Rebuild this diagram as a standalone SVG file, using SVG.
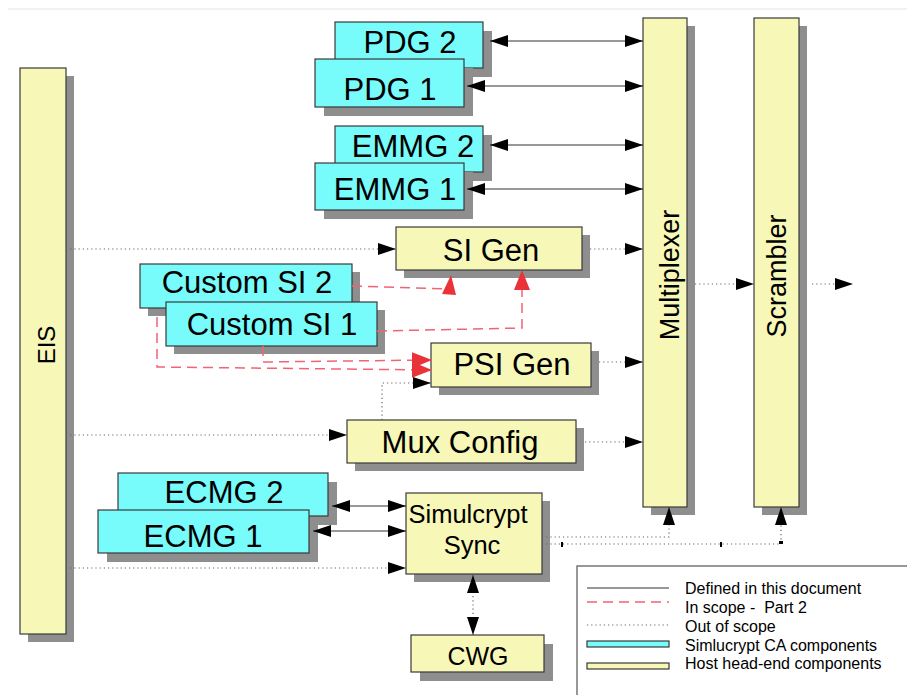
<svg xmlns="http://www.w3.org/2000/svg" width="907" height="695" viewBox="0 0 907 695">
  <style>
    .shadow { fill: #8e8e8e; }
    .host { fill: #f7f7b7; stroke: #3a3a3a; stroke-width: 1.2; }
    .ca { fill: #78fbfb; stroke: #3a3a3a; stroke-width: 1.2; }
    .lbl { font-family: "Liberation Sans", Arial, sans-serif; fill: #000; text-anchor: middle; }
    .big { font-size: 31px; }
    .mid { font-size: 25px; }
    .col { font-size: 27px; }
    .leg { font-family: "Liberation Sans", Arial, sans-serif; font-size: 16px; fill: #000; white-space: pre; }
    .solid { fill: none; stroke: #333; stroke-width: 1.1; }
    .dot { fill: none; stroke: #666; stroke-width: 1.2; stroke-dasharray: 1.2 3; }
    .dash { fill: none; stroke: #f06473; stroke-width: 1.5; stroke-dasharray: 10 6; }
  </style>
  <defs>
    <marker id="ah" viewBox="0 0 18 12" refX="18" refY="6" markerWidth="18" markerHeight="12" markerUnits="userSpaceOnUse" orient="auto-start-reverse">
      <path d="M0,0 L18,6 L0,12 Z" fill="#000"/>
    </marker>
    <marker id="ahr" viewBox="0 0 20 16" refX="20" refY="8" markerWidth="20" markerHeight="16" markerUnits="userSpaceOnUse" orient="auto">
      <path d="M0,0 L20,8 L0,16 Z" fill="#ea3338"/>
    </marker>
  </defs>

  <rect width="907" height="695" fill="#fff"/>
  <line x1="8" y1="9" x2="907" y2="9" stroke="#eeeeee" stroke-width="1.5"/>

  <!-- host head-end columns -->
  <g id="eis">
    <rect class="shadow" x="28" y="76" width="46" height="566"/>
    <rect class="host" x="20" y="68" width="46" height="566"/>
    <text class="lbl" font-size="24" transform="translate(55,345) rotate(-90)">EIS</text>
  </g>
  <g id="multiplexer">
    <rect class="shadow" x="651" y="26" width="44" height="489"/>
    <rect class="host" x="643" y="18" width="44" height="489"/>
    <text class="lbl col" transform="translate(679,275) rotate(-90)">Multiplexer</text>
  </g>
  <g id="scrambler">
    <rect class="shadow" x="762" y="26" width="45" height="489"/>
    <rect class="host" x="754" y="18" width="45" height="489"/>
    <text class="lbl col" transform="translate(786,276) rotate(-90)">Scrambler</text>
  </g>

  <!-- CA generators -->
  <g id="pdg2">
    <rect class="shadow" x="344" y="31" width="148" height="46"/>
    <rect class="ca" x="335" y="22" width="148" height="46"/>
    <text class="lbl big" x="410" y="53">PDG 2</text>
  </g>
  <g id="pdg1">
    <rect class="shadow" x="324" y="68" width="149" height="48"/>
    <rect class="ca" x="315" y="59" width="149" height="48"/>
    <text class="lbl big" x="390" y="100">PDG 1</text>
  </g>
  <g id="emmg2">
    <rect class="shadow" x="344" y="135" width="148" height="46"/>
    <rect class="ca" x="335" y="126" width="148" height="46"/>
    <text class="lbl big" x="413" y="157">EMMG 2</text>
  </g>
  <g id="emmg1">
    <rect class="shadow" x="324" y="172" width="149" height="47"/>
    <rect class="ca" x="315" y="163" width="149" height="47"/>
    <text class="lbl big" x="395" y="200">EMMG 1</text>
  </g>

  <g id="si-gen">
    <rect class="shadow" x="404" y="235" width="186" height="43"/>
    <rect class="host" x="396" y="227" width="186" height="43"/>
    <text class="lbl big" x="491" y="261">SI Gen</text>
  </g>
  <g id="custom-si2">
    <rect class="shadow" x="148" y="272" width="212" height="44"/>
    <rect class="ca" x="140" y="264" width="212" height="44"/>
    <text class="lbl big" x="247" y="293">Custom SI 2</text>
  </g>
  <g id="custom-si1">
    <rect class="shadow" x="174" y="310" width="211" height="44"/>
    <rect class="ca" x="166" y="302" width="211" height="44"/>
    <text class="lbl big" x="272" y="335">Custom SI 1</text>
  </g>
  <g id="psi-gen">
    <rect class="shadow" x="439" y="351" width="160" height="44"/>
    <rect class="host" x="431" y="343" width="160" height="44"/>
    <text class="lbl big" x="512" y="375">PSI Gen</text>
  </g>
  <g id="mux-config">
    <rect class="shadow" x="355" y="428" width="229" height="43"/>
    <rect class="host" x="347" y="420" width="229" height="43"/>
    <text class="lbl big" x="460" y="453">Mux Config</text>
  </g>
  <g id="ecmg2">
    <rect class="shadow" x="127" y="482" width="210" height="43"/>
    <rect class="ca" x="118" y="473" width="210" height="43"/>
    <text class="lbl big" x="224" y="503">ECMG 2</text>
  </g>
  <g id="ecmg1">
    <rect class="shadow" x="107" y="519" width="211" height="43"/>
    <rect class="ca" x="98" y="510" width="211" height="43"/>
    <text class="lbl big" x="203" y="547">ECMG 1</text>
  </g>
  <g id="simulcrypt-sync">
    <rect class="shadow" x="414" y="501" width="136" height="81"/>
    <rect class="host" x="406" y="493" width="136" height="81"/>
    <text class="lbl" font-size="25.5" x="468" y="523">Simulcrypt</text>
    <text class="lbl" font-size="25.5" x="472" y="554">Sync</text>
  </g>
  <g id="cwg">
    <rect class="shadow" x="420" y="644" width="133" height="37"/>
    <rect class="host" x="411" y="635" width="133" height="37"/>
    <text class="lbl mid" x="478" y="665">CWG</text>
  </g>

  <g id="connectors">
    <!-- defined interfaces -->
    <path class="solid" d="M490,41 H643" marker-start="url(#ah)" marker-end="url(#ah)"/>
    <path class="solid" d="M467,86 H643" marker-start="url(#ah)" marker-end="url(#ah)"/>
    <path class="solid" d="M490,145 H643" marker-start="url(#ah)" marker-end="url(#ah)"/>
    <path class="solid" d="M467,189 H643" marker-start="url(#ah)" marker-end="url(#ah)"/>
    <path class="solid" d="M332,506 H406" marker-start="url(#ah)" marker-end="url(#ah)"/>
    <path class="solid" d="M313,531 H406" marker-start="url(#ah)" marker-end="url(#ah)"/>

    <!-- out of scope -->
    <path class="dot" d="M66,249 H396" marker-end="url(#ah)"/>
    <path class="dot" d="M590,249 H643" marker-end="url(#ah)"/>
    <path class="dot" d="M599,362 H643" marker-end="url(#ah)"/>
    <path class="dot" d="M585,442 H643" marker-end="url(#ah)"/>
    <path class="dot" d="M66,435 H347" marker-end="url(#ah)"/>
    <path class="dot" d="M382,420 V383 H431" marker-end="url(#ah)"/>
    <path class="dot" d="M66,568 H406" marker-end="url(#ah)"/>
    <path class="dot" d="M542,537 H669 V507" marker-end="url(#ah)"/>
    <path class="dot" d="M542,544 H781 V507" marker-end="url(#ah)"/>
    <rect x="561" y="542" width="2" height="5" fill="#000"/>
    <rect x="720" y="542" width="2" height="5" fill="#000"/>
    <rect x="779" y="541" width="4" height="3" fill="#000"/>
    <path class="dot" d="M695,284 H754" marker-end="url(#ah)"/>
    <path class="dot" d="M812,284 H853" marker-end="url(#ah)"/>
    <path class="dot" d="M473,575 V635" marker-start="url(#ah)" marker-end="url(#ah)"/>

    <!-- Part 2 interfaces -->
    <path class="dash" d="M352,286 L447,289"/>
    <polygon points="451,275 442,294 456,295" fill="#ea3338"/>
    <path class="dash" d="M377,331 L522,328 V270" marker-end="url(#ahr)"/>
    <path class="dash" d="M263,346 V362 L432,360" marker-end="url(#ahr)"/>
    <path class="dash" d="M157,317 V367 L432,370" marker-end="url(#ahr)"/>
  </g>

  <g id="legend">
    <rect x="577" y="566" width="340" height="140" fill="#fff" stroke="#777" stroke-width="1.5"/>
    <line class="solid" x1="587" y1="588" x2="669" y2="588"/>
    <line class="dash" x1="587" y1="602" x2="669" y2="602"/>
    <line class="dot" x1="587" y1="625" x2="669" y2="625" stroke="#999"/>
    <rect class="ca" x="587" y="641" width="82" height="6"/>
    <rect class="host" x="587" y="663" width="82" height="6"/>
    <text class="leg" x="685" y="594">Defined in this document</text>
    <text class="leg" x="685" y="613">In scope -  Part 2</text>
    <text class="leg" x="685" y="632">Out of scope</text>
    <text class="leg" x="685" y="651">Simlucrypt CA components</text>
    <text class="leg" x="685" y="669">Host head-end components</text>
  </g>
</svg>
